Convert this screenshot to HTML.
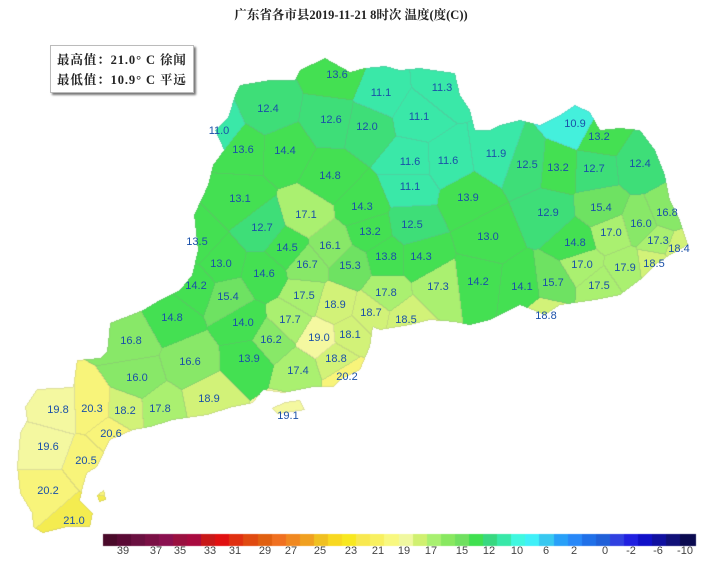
<!DOCTYPE html>
<html><head><meta charset="utf-8"><style>
body{margin:0;background:#fff;width:702px;height:566px;overflow:hidden;position:relative;font-family:"Liberation Sans","Noto Sans CJK SC",sans-serif}
#t{position:absolute;left:0;width:702px;top:5px;text-align:center;font:bold 12.5px "Liberation Serif","Noto Serif CJK SC",serif;color:#222}
#lg{position:absolute;left:50px;top:45px;width:144px;height:48px;background:#fff;border:1px solid #bbb;box-shadow:2px 2px 2px #777;font:bold 12.5px "Liberation Serif","Noto Serif CJK SC",serif;letter-spacing:0.9px;color:#222;line-height:20px;padding:4px 0 0 6px;box-sizing:border-box;white-space:nowrap}
canvas{position:absolute;left:0;top:0}
.l{position:absolute;font-size:11px;color:#1a50a8;transform:translate(-50%,-50%);white-space:nowrap}
.c{position:absolute;top:545px;font-size:11px;color:#444;transform:translateX(-50%)}
</style></head><body>
<canvas id="cv" width="702" height="566"></canvas>
<div id="t">广东省各市县2019-11-21 8时次 温度(度(C))</div>
<div id="lg">最高值：21.0° C 徐闻<br>最低值：10.9° C 平远</div>
<div id="labs"></div>
<script>
var S=[[13.6,337,75],[11.1,381,93],[11.3,442,88],[12.4,268,109],[12.6,331,120],[12.0,367,127],[11.1,419,117],[10.9,575,124],[13.2,599,137],[11.0,219,131],[13.6,243,150],[14.4,285,151],[11.6,410,162],[11.6,448,161],[11.9,496,154],[12.5,527,165],[13.2,558,168],[12.7,594,169],[12.4,640,164],[14.8,330,176],[11.1,410,187],[13.1,240,199],[17.1,306,215],[14.3,362,207],[13.9,468,198],[12.9,548,213],[15.4,601,208],[16.8,667,213],[12.7,262,228],[12.5,412,225],[13.2,370,232],[16.0,641,224],[17.0,611,233],[13.5,197,242],[14.5,287,248],[16.1,330,246],[13.0,488,237],[14.8,575,243],[17.3,658,241],[18.4,679,249],[13.0,221,264],[16.7,307,265],[14.6,264,274],[15.3,350,266],[13.8,386,257],[14.3,421,257],[17.0,582,265],[17.9,625,268],[18.5,654,264],[14.2,196,286],[15.4,228,297],[17.5,304,296],[17.3,438,287],[14.2,478,282],[14.1,522,287],[15.7,553,283],[17.5,599,286],[17.8,386,293],[18.9,335,305],[18.7,371,313],[18.5,406,320],[18.8,546,316],[14.8,172,318],[14.0,243,323],[17.7,290,320],[18.1,350,335],[16.8,131,341],[16.2,271,340],[19.0,319,338],[13.9,249,359],[18.8,336,359],[16.6,190,362],[17.4,298,371],[20.2,347,377],[16.0,137,378],[18.9,209,399],[19.1,288,416],[19.8,58,410],[20.3,92,409],[18.2,125,411],[17.8,160,409],[20.6,111,434],[19.6,48,447],[20.5,86,461],[20.2,48,491],[21.0,74,521]];
var OUT=[[215,130],[228,118],[235,95],[240,85],[270,80],[295,80],[300,70],[325,58],[350,72],[365,68],[385,66],[400,70],[420,68],[455,73],[460,95],[470,110],[475,130],[490,130],[500,125],[520,120],[540,125],[560,115],[575,105],[590,112],[600,130],[620,128],[640,130],[655,150],[665,175],[670,200],[680,220],[688,245],[670,255],[655,265],[640,280],[620,295],[595,300],[560,305],[545,315],[520,305],[490,320],[470,325],[455,322],[430,320],[410,325],[380,330],[373,327],[370,347],[360,370],[340,380],[333,387],[313,387],[283,393],[263,390],[253,403],[233,407],[207,415],[173,420],[150,427],[133,430],[110,440],[97,467],[87,473],[83,487],[80,500],[93,513],[90,527],[67,527],[43,533],[33,527],[32,513],[20,493],[17,467],[20,433],[27,420],[25,407],[37,389],[73,387],[77,360],[100,358],[107,352],[110,323],[143,310],[160,300],[180,290],[192,275],[198,250],[194,215],[208,185],[213,165],[224,150]];
var ISL=[[[272,408],[285,402],[300,400],[305,410],[292,412],[278,414]],[[530,305],[545,300],[558,306],[548,312]],[[97,495],[104,490],[106,500],[99,502]]];
function col(v){var c=v<11?'#44f0dc':v<12?'#3ae8a8':v<13?'#3ede78':v<15?'#44e052':v<16?'#6ee262':v<17?'#88e868':v<18?'#aaf070':v<19?'#d2f278':v<20?'#f4f8a0':v<20.8?'#f8f47a':'#f4ec50';return c;}
function hex(c){return [parseInt(c.substr(1,2),16),parseInt(c.substr(3,2),16),parseInt(c.substr(5,2),16)];}
var cv=document.getElementById('cv'),g=cv.getContext('2d');
g.fillStyle='#000';g.beginPath();OUT.forEach(function(p,i){i?g.lineTo(p[0],p[1]):g.moveTo(p[0],p[1]);});g.closePath();g.fill();
ISL.forEach(function(P){g.beginPath();P.forEach(function(p,i){i?g.lineTo(p[0],p[1]):g.moveTo(p[0],p[1]);});g.closePath();g.fill();});
var W=702,H=566,img=g.getImageData(0,0,W,H),d=img.data,idx=new Int16Array(W*H).fill(-1);
for(var y=40;y<540;y++)for(var x=0;x<W;x++){var k=(y*W+x);if(d[k*4+3]<128)continue;var b=0,bd=1e9;for(var i=0;i<S.length;i++){var dx=x-S[i][1],dy=y-S[i][2],q=dx*dx+dy*dy;if(q<bd){bd=q;b=i;}}idx[k]=b;}
var cols=S.map(function(s){return hex(col(s[0]));});
for(var k=0;k<W*H;k++){var i=idx[k];if(i<0){d[k*4+3]=0;continue;}var c=cols[i];var x=k%W,edge=false;
if(x<W-1&&idx[k+1]!==i)edge=true;if(k+W<W*H&&idx[k+W]!==i)edge=true;if(x>0&&idx[k-1]<0)edge=true;if(k-W>=0&&idx[k-W]<0)edge=true;if(x<W-1&&idx[k+1]<0)edge=true;if(k+W<W*H&&idx[k+W]<0)edge=true;
if(edge){d[k*4]=c[0]*0.78+30;d[k*4+1]=c[1]*0.78+30;d[k*4+2]=c[2]*0.78+30;}else{d[k*4]=c[0];d[k*4+1]=c[1];d[k*4+2]=c[2];}d[k*4+3]=255;}
g.putImageData(img,0,0);
var BC=['#4a0a2a','#5a0a35','#6a1040','#7a1045','#8a1050','#9a1040','#a80a40','#c81818','#e01010','#e03010','#e04a10','#e06010','#f07020','#f08820','#f0a020','#f0c020','#f8d820','#f8e820','#f8e850','#f8f060','#f8f880','#f0f8a0','#d0f070','#a8f070','#88e860','#70e060','#40e050','#38d880','#38e8a8','#40f8e0','#40f0f8','#38c8f0','#28a0f8','#2888f8','#2070e8','#2060d8','#3040e0','#2020e0','#1010c8','#1010a0','#101078','#0a0a50'];
var bw=592/BC.length;BC.forEach(function(c,i){g.fillStyle=c;g.fillRect(Math.floor(103+i*bw),534,Math.ceil(bw)+1,12);});
var h='';S.forEach(function(s){h+='<div class="l" style="left:'+s[1]+'px;top:'+s[2]+'px">'+s[0].toFixed(1)+'</div>';});
[[39,123],[37,156],[35,180],[33,210],[31,235],[29,265],[27,291],[25,320],[23,351],[21,378],[19,404],[17,431],[15,462],[12,489],[10,517],[6,546],[2,574],[0,605],[-2,631],[-6,658],[-10,685]].forEach(function(a){h+='<div class="c" style="left:'+a[1]+'px">'+a[0]+'</div>';});
document.getElementById('labs').innerHTML=h;
</script>
</body></html>
